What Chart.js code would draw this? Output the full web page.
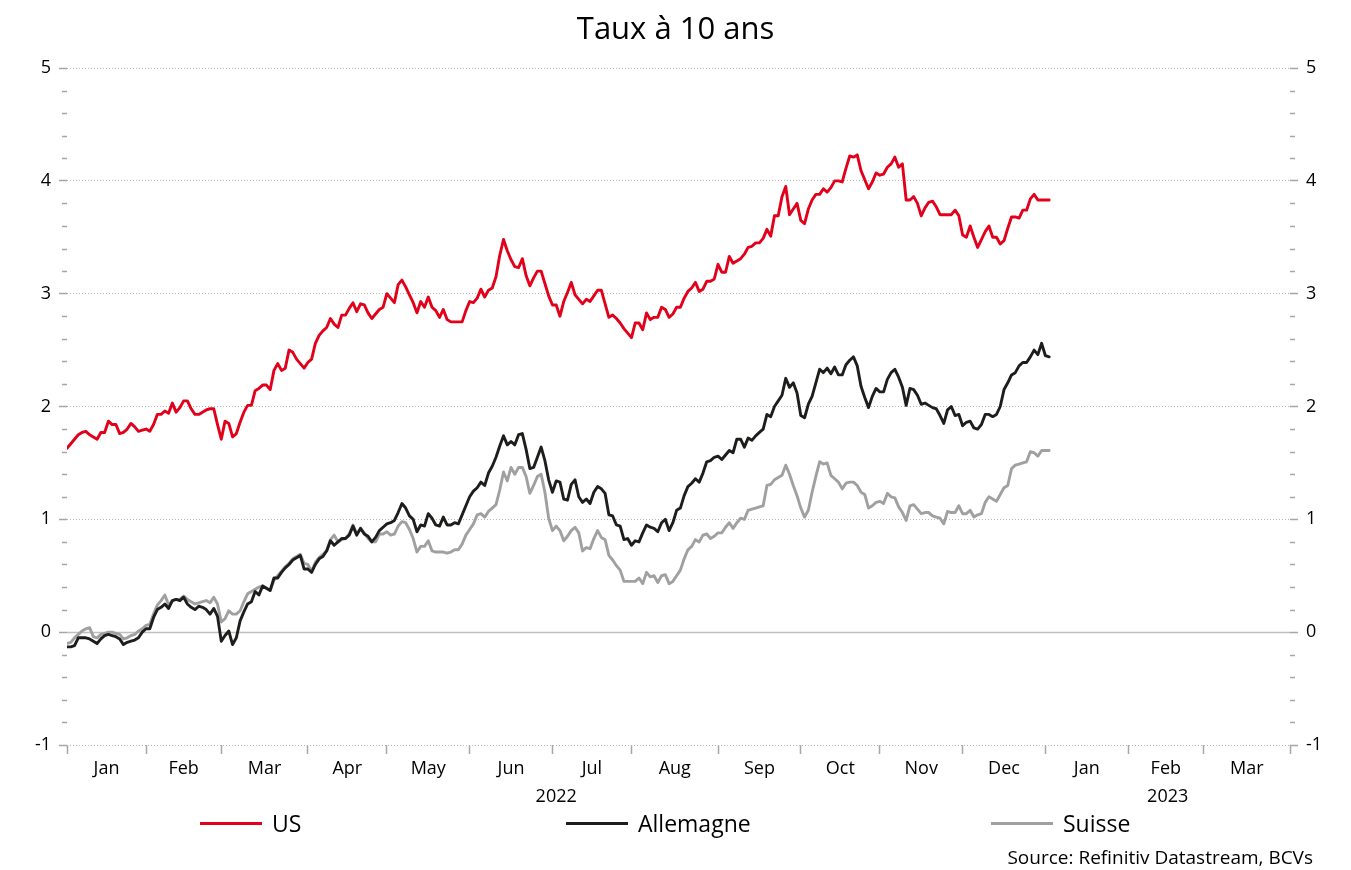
<!DOCTYPE html>
<html>
<head>
<meta charset="utf-8">
<script src="https://cdn.jsdelivr.net/npm/chart.js@4.4.1/dist/chart.umd.min.js"></script>
<style>
  html, body { margin: 0; padding: 0; background: #fff; }
  #wrap { width: 1351px; height: 870px; }
</style>
</head>
<body>
<div id="wrap"><canvas id="chart" width="1351" height="870"></canvas></div>
<script>
// x = weekday index, 0 = Mon 3 Jan 2022 (the source axis counts weekdays only)
const monthStarts = [0, 21, 41, 64, 85, 107, 129, 150, 173, 195, 216, 238, 260, 282, 302, 325];
const monthLabels = ['Jan', 'Feb', 'Mar', 'Apr', 'May', 'Jun', 'Jul', 'Aug', 'Sep', 'Oct', 'Nov', 'Dec', 'Jan', 'Feb', 'Mar'];
const yearLabels = ['2022', '2023'];
const yearSpans = [[0, 260], [260, 325]];

const usYields = [
  1.63, 1.67, 1.71, 1.75, 1.77, 1.78, 1.75, 1.73, 1.71, 1.77,
  1.77, 1.87, 1.84, 1.84, 1.76, 1.77, 1.80, 1.85, 1.82, 1.78,
  1.79, 1.80, 1.78, 1.84, 1.93, 1.93, 1.96, 1.94, 2.03, 1.95,
  1.99, 2.05, 2.05, 1.98, 1.93, 1.93, 1.95, 1.97, 1.98, 1.98,
  1.84, 1.71, 1.87, 1.85, 1.73, 1.76, 1.86, 1.95, 2.01, 2.01,
  2.14, 2.16, 2.19, 2.19, 2.15, 2.32, 2.38, 2.32, 2.34, 2.50,
  2.48, 2.42, 2.38, 2.34, 2.39, 2.42, 2.56, 2.63, 2.67, 2.70,
  2.78, 2.73, 2.70, 2.81, 2.81, 2.87, 2.92, 2.84, 2.91, 2.90,
  2.83, 2.78, 2.82, 2.86, 2.88, 3.00, 2.96, 2.92, 3.08, 3.12,
  3.06, 2.99, 2.92, 2.83, 2.93, 2.88, 2.97, 2.88, 2.85, 2.79,
  2.86, 2.77, 2.75, 2.75, 2.75, 2.75, 2.85, 2.93, 2.92, 2.96,
  3.04, 2.97, 3.03, 3.05, 3.15, 3.34, 3.48, 3.38, 3.30, 3.24,
  3.23, 3.31, 3.16, 3.07, 3.14, 3.20, 3.20, 3.09, 2.98, 2.90,
  2.90, 2.80, 2.93, 3.01, 3.10, 2.99, 2.95, 2.91, 2.95, 2.93,
  2.98, 3.03, 3.03, 2.91, 2.79, 2.81, 2.78, 2.74, 2.69, 2.65,
  2.61, 2.74, 2.74, 2.68, 2.83, 2.77, 2.79, 2.79, 2.88, 2.86,
  2.79, 2.82, 2.88, 2.88, 2.96, 3.02, 3.05, 3.10, 3.02, 3.04,
  3.11, 3.11, 3.13, 3.26, 3.19, 3.19, 3.33, 3.27, 3.29, 3.31,
  3.35, 3.41, 3.42, 3.45, 3.45, 3.49, 3.57, 3.51, 3.69, 3.69,
  3.86, 3.95, 3.70, 3.75, 3.80, 3.65, 3.62, 3.75, 3.83, 3.88,
  3.88, 3.93, 3.90, 3.94, 4.00, 4.00, 3.99, 4.11, 4.22, 4.21,
  4.23, 4.09, 4.01, 3.93, 3.99, 4.07, 4.05, 4.06, 4.12, 4.15,
  4.21, 4.12, 4.15, 3.83, 3.83, 3.86, 3.80, 3.69, 3.76, 3.81,
  3.82, 3.77, 3.70, 3.70, 3.70, 3.70, 3.74, 3.69, 3.52, 3.50,
  3.60, 3.50, 3.41, 3.48, 3.55, 3.60, 3.50, 3.50, 3.44, 3.47,
  3.58, 3.68, 3.68, 3.67, 3.74, 3.74, 3.84, 3.88, 3.83, 3.83,
  3.83, 3.83
];

const deYields = [
  -0.13, -0.13, -0.12, -0.05, -0.05, -0.05, -0.06, -0.08, -0.10, -0.06,
  -0.03, -0.02, -0.03, -0.04, -0.06, -0.11, -0.09, -0.08, -0.07, -0.05,
  0.00, 0.03, 0.03, 0.13, 0.20, 0.22, 0.25, 0.21, 0.28, 0.29,
  0.28, 0.31, 0.25, 0.22, 0.20, 0.23, 0.22, 0.20, 0.16, 0.21,
  0.14, -0.08, -0.03, 0.01, -0.11, -0.05, 0.10, 0.18, 0.25, 0.27,
  0.36, 0.33, 0.41, 0.39, 0.37, 0.48, 0.48, 0.53, 0.57, 0.60,
  0.64, 0.66, 0.68, 0.56, 0.56, 0.53, 0.60, 0.65, 0.67, 0.72,
  0.81, 0.77, 0.80, 0.83, 0.83, 0.86, 0.94, 0.86, 0.92, 0.87,
  0.85, 0.80, 0.84, 0.90, 0.93, 0.96, 0.97, 0.99, 1.06, 1.14,
  1.10, 1.03, 1.00, 0.89, 0.95, 0.94, 1.05, 1.01, 0.95, 0.94,
  1.02, 0.95, 0.95, 0.97, 0.96, 1.04, 1.12, 1.20, 1.25, 1.28,
  1.33, 1.30, 1.41, 1.47, 1.55, 1.65, 1.74, 1.66, 1.69, 1.66,
  1.75, 1.76, 1.62, 1.45, 1.46, 1.55, 1.64, 1.52, 1.35, 1.24,
  1.34, 1.33, 1.18, 1.17, 1.31, 1.35, 1.20, 1.15, 1.18, 1.14,
  1.24, 1.29, 1.27, 1.23, 1.04, 1.03, 0.95, 0.94, 0.82, 0.83,
  0.77, 0.81, 0.80, 0.88, 0.95, 0.93, 0.92, 0.89, 0.97, 1.00,
  0.90, 0.97, 1.08, 1.10, 1.21, 1.29, 1.32, 1.36, 1.33, 1.41,
  1.51, 1.52, 1.55, 1.56, 1.53, 1.57, 1.61, 1.59, 1.71, 1.71,
  1.64, 1.72, 1.70, 1.74, 1.77, 1.80, 1.93, 1.91, 2.00, 2.05,
  2.10, 2.25, 2.17, 2.21, 2.12, 1.92, 1.90, 2.02, 2.09, 2.21,
  2.33, 2.30, 2.34, 2.29, 2.35, 2.28, 2.28, 2.37, 2.41, 2.44,
  2.36, 2.18, 2.08, 1.99, 2.09, 2.16, 2.13, 2.13, 2.24, 2.30,
  2.33, 2.26, 2.17, 2.01, 2.16, 2.15, 2.10, 2.02, 2.03, 2.01,
  1.99, 1.98, 1.92, 1.85, 1.97, 2.00, 1.92, 1.93, 1.83, 1.86,
  1.87, 1.81, 1.80, 1.84, 1.93, 1.93, 1.91, 1.93, 2.00, 2.15,
  2.21, 2.28, 2.30, 2.36, 2.39, 2.39, 2.44, 2.50, 2.46, 2.56,
  2.45, 2.44
];

const chYields = [
  -0.10, -0.09, -0.05, -0.02, 0.01, 0.03, 0.04, -0.04, -0.05, -0.02,
  -0.01, 0.00, 0.00, -0.01, -0.02, -0.06, -0.05, -0.03, -0.02, 0.01,
  0.03, 0.06, 0.07, 0.16, 0.24, 0.28, 0.33, 0.24, 0.28, 0.29,
  0.29, 0.32, 0.29, 0.27, 0.25, 0.26, 0.27, 0.28, 0.26, 0.31,
  0.25, 0.09, 0.12, 0.19, 0.16, 0.16, 0.19, 0.27, 0.34, 0.36,
  0.38, 0.40, 0.41, 0.39, 0.37, 0.46, 0.50, 0.54, 0.58, 0.61,
  0.65, 0.67, 0.69, 0.61, 0.60, 0.54, 0.62, 0.66, 0.69, 0.72,
  0.82, 0.86, 0.80, 0.82, 0.83, 0.87, 0.95, 0.87, 0.92, 0.88,
  0.83, 0.80, 0.80, 0.87, 0.87, 0.89, 0.86, 0.87, 0.94, 0.98,
  0.97, 0.91, 0.83, 0.71, 0.76, 0.76, 0.81, 0.72, 0.71, 0.71,
  0.71, 0.70, 0.71, 0.73, 0.73, 0.78, 0.86, 0.91, 0.96, 1.04,
  1.05, 1.02, 1.07, 1.10, 1.13, 1.26, 1.42, 1.34, 1.46, 1.40,
  1.46, 1.46, 1.38, 1.23, 1.30, 1.38, 1.40, 1.24, 1.01, 0.90,
  0.94, 0.90, 0.81, 0.85, 0.90, 0.93, 0.88, 0.72, 0.75, 0.74,
  0.83, 0.90, 0.84, 0.82, 0.68, 0.64, 0.59, 0.55, 0.45, 0.45,
  0.45, 0.45, 0.48, 0.43, 0.53, 0.49, 0.50, 0.44, 0.50, 0.51,
  0.43, 0.45, 0.50, 0.55, 0.65, 0.73, 0.76, 0.82, 0.80, 0.86,
  0.87, 0.83, 0.85, 0.88, 0.88, 0.93, 0.97, 0.92, 0.97, 1.01,
  1.00, 1.08, 1.09, 1.10, 1.11, 1.12, 1.30, 1.31, 1.35, 1.37,
  1.39, 1.48, 1.40, 1.30, 1.21, 1.10, 1.02, 1.08, 1.24, 1.38,
  1.51, 1.49, 1.50, 1.39, 1.36, 1.33, 1.27, 1.32, 1.33, 1.33,
  1.30, 1.24, 1.22, 1.10, 1.12, 1.15, 1.16, 1.14, 1.23, 1.20,
  1.19, 1.11, 1.06, 0.99, 1.12, 1.13, 1.09, 1.05, 1.06, 1.06,
  1.03, 1.02, 1.01, 0.96, 1.07, 1.06, 1.06, 1.12, 1.05, 1.05,
  1.08, 1.02, 1.04, 1.05, 1.15, 1.20, 1.18, 1.16, 1.22, 1.28,
  1.30, 1.45, 1.48, 1.49, 1.50, 1.51, 1.60, 1.59, 1.56, 1.61,
  1.61, 1.61
];

const seriesNames = ['US', 'Allemagne', 'Suisse'];
const seriesColors = ['#e2001a', '#1d1d1b', '#a0a0a0'];
const seriesValues = [usYields, deYields, chYields];

const yMin = -1, yMax = 5, minorStep = 0.2;
const tickGrey = '#a6a6a6';
const FONT = '"Open Sans", "DejaVu Sans", sans-serif';

// month boundaries get a tick mark, month middles carry the label
const xTicks = [];
const xLabelAt = {};
monthStarts.forEach((m, i) => {
  xTicks.push(m);
  if (i < monthLabels.length) {
    const mid = (m + monthStarts[i + 1]) / 2;
    xTicks.push(mid);
    xLabelAt[mid] = monthLabels[i];
  }
});
const startSet = new Set(monthStarts);

const extras = {
  id: 'extras',
  beforeDatasetsDraw(chart) {
    const {ctx, chartArea: a, scales: {y}} = chart;
    const py = Math.round(y.getPixelForValue(0)) + 0.5;
    ctx.save();
    ctx.strokeStyle = '#bfbfbf';
    ctx.lineWidth = 1.5;
    ctx.beginPath();
    ctx.moveTo(a.left, py);
    ctx.lineTo(a.right, py);
    ctx.stroke();
    ctx.restore();
  },
  afterDraw(chart) {
    const {ctx, chartArea: a, scales: {x, y}} = chart;
    ctx.save();

    // minor ticks on both value axes
    ctx.strokeStyle = tickGrey;
    ctx.lineWidth = 1.5;
    for (let k = 1; k < (yMax - yMin) / minorStep; k++) {
      if (k % 5 === 0) continue;
      const py = Math.round(y.getPixelForValue(yMin + k * minorStep)) + 0.5;
      ctx.beginPath();
      ctx.moveTo(a.left - 5, py); ctx.lineTo(a.left, py);
      ctx.moveTo(a.right, py); ctx.lineTo(a.right + 5, py);
      ctx.stroke();
    }

    ctx.fillStyle = '#000';
    ctx.textBaseline = 'middle';

    // title
    ctx.textAlign = 'center';
    ctx.font = '31px ' + FONT;
    ctx.fillText('Taux à 10 ans', chart.width / 2, 30);

    // years under the month labels
    ctx.font = '18px ' + FONT;
    yearLabels.forEach((lbl, i) => {
      const cx = (x.getPixelForValue(yearSpans[i][0]) + x.getPixelForValue(yearSpans[i][1])) / 2;
      ctx.fillText(lbl, cx, 797);
    });

    // legend
    const legendX = [200, 566, 991];
    ctx.font = '23px ' + FONT;
    ctx.textAlign = 'left';
    seriesNames.forEach((name, i) => {
      ctx.strokeStyle = seriesColors[i];
      ctx.lineWidth = 3;
      ctx.beginPath();
      ctx.moveTo(legendX[i], 823.5);
      ctx.lineTo(legendX[i] + 62, 823.5);
      ctx.stroke();
      ctx.fillText(name, legendX[i] + 72, 825);
    });

    // source
    ctx.font = '19px ' + FONT;
    ctx.textAlign = 'right';
    ctx.fillText('Source: Refinitiv Datastream, BCVs', 1313, 859);
    ctx.restore();
  }
};

const yAxis = (position, width) => ({
  type: 'linear',
  position: position,
  min: yMin,
  max: yMax,
  afterFit(scale) { scale.width = width; },
  ticks: {
    stepSize: 1,
    padding: 8,
    color: '#000',
    font: {family: FONT, size: 18}
  },
  grid: {
    drawOnChartArea: position === 'left',
    color: c => (c.tick && c.tick.value === 0) ? 'rgba(0,0,0,0)' : '#b5b5b5',
    lineWidth: 1,
    tickColor: tickGrey,
    tickLength: 8,
    tickWidth: 1.5
  },
  border: {display: false, dash: [1, 2]}
});

new Chart(document.getElementById('chart'), {
  type: 'line',
  data: {
    datasets: seriesNames.map((name, i) => ({
      label: name,
      data: seriesValues[i].map((v, k) => ({x: k, y: v})),
      borderColor: seriesColors[i],
      backgroundColor: seriesColors[i],
      borderWidth: 2.9,
      pointRadius: 0,
      tension: 0,
      borderJoinStyle: 'round',
      borderCapStyle: 'round',
      yAxisID: 'y'
    }))
  },
  options: {
    responsive: false,
    animation: false,
    devicePixelRatio: 1,
    layout: {padding: {top: 68, left: 0, right: 0, bottom: 0}},
    plugins: {
      legend: {display: false},
      title: {display: false},
      tooltip: {enabled: false}
    },
    scales: {
      x: {
        type: 'linear',
        min: monthStarts[0],
        max: monthStarts[monthStarts.length - 1],
        afterFit(scale) { scale.height = 125; },
        afterBuildTicks(scale) {
          scale.ticks = xTicks.map(v => ({value: v}));
        },
        ticks: {
          autoSkip: false,
          maxRotation: 0,
          padding: 4,
          color: '#000',
          font: {family: FONT, size: 18},
          callback: v => xLabelAt[v] || ''
        },
        grid: {
          drawOnChartArea: false,
          tickLength: 9,
          tickWidth: 1.5,
          tickColor: c => (c.tick && startSet.has(c.tick.value)) ? tickGrey : 'rgba(0,0,0,0)'
        },
        border: {display: false}
      },
      y: yAxis('left', 67),
      y2: yAxis('right', 61)
    }
  },
  plugins: [extras]
});
</script>
</body>
</html>
